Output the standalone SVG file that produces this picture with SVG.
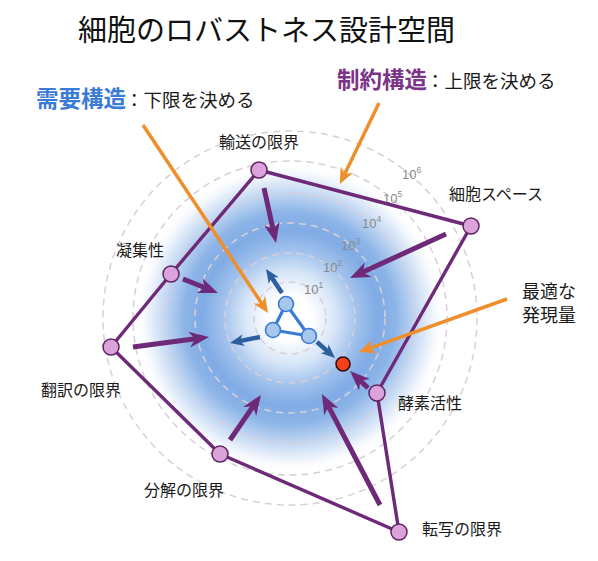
<svg xmlns="http://www.w3.org/2000/svg" width="598" height="561" viewBox="0 0 598 561">
  <defs>
    <radialGradient id="demand" cx="290" cy="318" r="155" gradientUnits="userSpaceOnUse">
      <stop offset="0" stop-color="#ffffff"/>
      <stop offset="0.14" stop-color="#ffffff"/>
      <stop offset="0.3" stop-color="#d6e5f7"/>
      <stop offset="0.44" stop-color="#a0c1ec"/>
      <stop offset="0.57" stop-color="#80abe5"/>
      <stop offset="0.68" stop-color="#8cb4e7"/>
      <stop offset="0.8" stop-color="#bed5f2"/>
      <stop offset="0.91" stop-color="#ebf2fb"/>
      <stop offset="1" stop-color="#ffffff" stop-opacity="0"/>
    </radialGradient>
    <marker id="mPurple" viewBox="0 -8 20 16" markerWidth="20" markerHeight="16" refX="10" refY="0" orient="auto" markerUnits="userSpaceOnUse">
      <path d="M0,-8 L20,0 L0,8 L6,0 z" fill="#6e2a78"/>
    </marker>
    <marker id="mOrange" viewBox="0 -7 16 14" markerWidth="16" markerHeight="14" refX="8" refY="0" orient="auto" markerUnits="userSpaceOnUse">
      <path d="M0,-7 L16,0 L0,7 L5,0 z" fill="#ef8f2c"/>
    </marker>
    <marker id="mBlue" viewBox="0 -6 14 12" markerWidth="14" markerHeight="12" refX="7" refY="0" orient="auto" markerUnits="userSpaceOnUse">
      <path d="M0,-6 L14,0 L0,6 L4,0 z" fill="#2d5f9f"/>
    </marker>
  </defs>
  <style>
    .cjk { font-family: "Noto Sans CJK JP", "Noto Sans", sans-serif; }
    .lbl { font-size: 16px; fill: #1a1a1a; text-anchor: middle; }
    .grid { fill: none; stroke: #d8d0d8; stroke-width: 1.5; stroke-dasharray: 7 5; }
    .tick { font-family: "Liberation Sans", Arial, sans-serif; font-size: 13px; fill: #8a8a8a; }
    .edge { fill: none; stroke: #6e2a78; stroke-width: 3.4; stroke-linejoin: round; }
    .parr { stroke: #6e2a78; stroke-width: 5; fill: none; marker-end: url(#mPurple); }
    .oarr { stroke: #ef8f2c; stroke-width: 3.5; fill: none; marker-end: url(#mOrange); }
    .barr { stroke: #2d5f9f; stroke-width: 4.5; fill: none; marker-end: url(#mBlue); }
    .limit { fill: #dca2da; stroke: #5e2363; stroke-width: 1.5; }
    .prot { fill: #a8c7ec; stroke: #3a7bd5; stroke-width: 1.6; }
  </style>

  <rect width="598" height="561" fill="#ffffff"/>

  <!-- background: demand gradient and log grid -->
  <g id="background">
    <circle cx="290" cy="318" r="155" fill="url(#demand)"/>
    <circle class="grid" cx="290" cy="318" r="36"/>
    <circle class="grid" cx="290" cy="318" r="65"/>
    <circle class="grid" cx="290" cy="318" r="95"/>
    <circle class="grid" cx="290" cy="318" r="125"/>
    <circle class="grid" cx="290" cy="318" r="157"/>
    <circle class="grid" cx="290" cy="318" r="187"/>
  </g>

  <g id="ticks" class="tick">
    <text x="304" y="294">10<tspan font-size="8.5" dy="-6">1</tspan></text>
    <text x="323" y="272">10<tspan font-size="8.5" dy="-6">2</tspan></text>
    <text x="341" y="250">10<tspan font-size="8.5" dy="-6">3</tspan></text>
    <text x="362" y="228">10<tspan font-size="8.5" dy="-6">4</tspan></text>
    <text x="383" y="203">10<tspan font-size="8.5" dy="-6">5</tspan></text>
    <text x="402" y="179">10<tspan font-size="8.5" dy="-6">6</tspan></text>
  </g>

  <!-- connectors -->
  <g id="connectors">
    <polygon class="edge" points="259,170 471,226 377,393 399,532 220,454 111,347 171,274"/>
    <line class="parr" x1="264" y1="188" x2="273.9" y2="233.2"/>
    <line class="parr" x1="446" y1="234" x2="359.1" y2="273.8"/>
    <line class="parr" x1="183" y1="279" x2="208.7" y2="289.3"/>
    <line class="parr" x1="133" y1="347" x2="199.1" y2="338.3"/>
    <line class="parr" x1="230" y1="440" x2="255.3" y2="403.2"/>
    <line class="parr" x1="380" y1="505" x2="326.6" y2="402.9" stroke-width="6.5"/>
    <line class="parr" x1="368" y1="388" x2="357.3" y2="377.9"/>
    <line class="barr" x1="282" y1="293" x2="269.9" y2="274.8"/>
    <line class="barr" x1="260" y1="337" x2="236.9" y2="341.6"/>
    <line class="barr" x1="317" y1="342" x2="329.8" y2="353.4"/>
    <line class="oarr" x1="143" y1="125" x2="263.6" y2="306.3"/>
    <line class="oarr" x1="379" y1="103" x2="343.4" y2="176.8"/>
    <line class="oarr" x1="507" y1="299" x2="366.5" y2="349.3"/>
  </g>

  <!-- central network (protein triangle) -->
  <g id="network">
    <path d="M286,304 L273,330 L309,336 Z" fill="none" stroke="#3a7bd5" stroke-width="3.2" stroke-linejoin="round"/>
    <circle class="prot" cx="286" cy="304" r="7.5"/>
    <circle class="prot" cx="273" cy="330" r="7.5"/>
    <circle class="prot" cx="309" cy="336" r="7.5"/>
  </g>

  <g id="node-transport">
    <circle class="limit" cx="259" cy="170" r="8"/>
    <text class="cjk lbl" x="259" y="148">輸送の限界</text>
  </g>
  <g id="node-cellspace">
    <circle class="limit" cx="471" cy="226" r="8"/>
    <text class="cjk lbl" x="496" y="200">細胞スペース</text>
  </g>
  <g id="node-enzyme">
    <circle class="limit" cx="377" cy="393" r="8"/>
    <text class="cjk lbl" x="430" y="409">酵素活性</text>
  </g>
  <g id="node-transcription">
    <circle class="limit" cx="399" cy="532" r="8"/>
    <text class="cjk lbl" x="462" y="535">転写の限界</text>
  </g>
  <g id="node-degradation">
    <circle class="limit" cx="220" cy="454" r="8"/>
    <text class="cjk lbl" x="184" y="496">分解の限界</text>
  </g>
  <g id="node-translation">
    <circle class="limit" cx="111" cy="347" r="8"/>
    <text class="cjk lbl" x="81" y="396">翻訳の限界</text>
  </g>
  <g id="node-aggregation">
    <circle class="limit" cx="171" cy="274" r="8"/>
    <text class="cjk lbl" x="140" y="256">凝集性</text>
  </g>
  <g id="node-optimum">
    <circle cx="343" cy="364" r="7" fill="#f3401c" stroke="#2a0e0e" stroke-width="1.6"/>
    <text class="cjk" x="522" y="298" font-size="18" fill="#1a1a1a">最適な</text>
    <text class="cjk" x="522" y="322" font-size="18" fill="#1a1a1a">発現量</text>
  </g>

  <!-- title and legends -->
  <g id="title">
    <text class="cjk" x="78" y="41" font-size="29" fill="#111111">細胞のロバストネス設計空間</text>
  </g>
  <g id="legend-demand">
    <text class="cjk" x="36" y="107" font-size="22.5" font-weight="bold" fill="#3a7bd5">需要構造</text>
    <text class="cjk" x="125" y="107" font-size="18.5" fill="#1a1a1a">：下限を決める</text>
  </g>
  <g id="legend-constraint">
    <text class="cjk" x="337" y="88" font-size="22.5" font-weight="bold" fill="#7a3488">制約構造</text>
    <text class="cjk" x="426" y="88" font-size="18.5" fill="#1a1a1a">：上限を決める</text>
  </g>
</svg>
